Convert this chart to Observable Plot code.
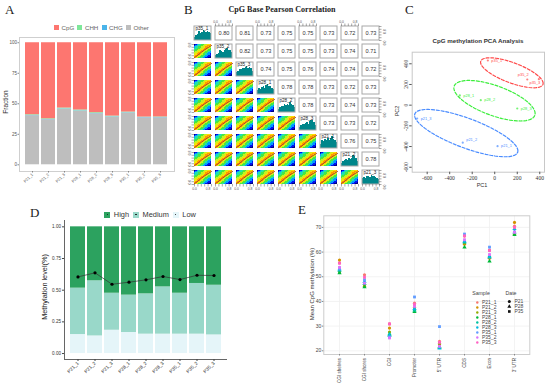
<!DOCTYPE html>
<html><head><meta charset="utf-8">
<script src="https://cdn.jsdelivr.net/npm/d3@7"></script>
<script src="https://cdn.jsdelivr.net/npm/@observablehq/plot@0.6"></script>
<style>
html,body{margin:0;padding:0;background:#fff}
#page{position:relative;width:550px;height:390px;overflow:hidden;background:#fff;font-family:"Liberation Sans",Arial,sans-serif}
#page>svg,#page>div{position:absolute}
.lab{font-family:"Liberation Serif",serif;font-size:13px;color:#222;line-height:1}
.ttl{line-height:1;white-space:nowrap;transform:translateX(-50%)}
.leg{display:flex;align-items:center;line-height:1;white-space:nowrap}
.leg i{display:inline-flex;align-items:center;justify-content:center;flex:none}
.leg b{display:block;border-radius:50%;background:#111}
</style></head><body><div id="page"></div>
<script>
const sampleNames = ["P21_1","P21_2","P21_3","P28_1","P28_2","P28_3","P35_1","P35_2","P35_3"];

// Panel A
const fractionOther = [40.2,36.9,45.6,44.0,41.8,39.1,42.4,38.5,38.5];
const fractionCHG   = [0.3,0.3,0.3,0.3,0.3,0.3,0.3,0.3,0.3];
const fractionCHH   = [0.5,0.5,0.6,0.6,0.6,0.5,0.5,0.3,0.4];
const contextNames  = ["CpG","CHH","CHG","Other"];
const contextColors = ["#FD7670","#7EE79A","#4AB4EA","#BEBEBE"];

// Panel B
const corrIds = ["p35_1","p35_2","p35_3","p28_1","p28_2","p28_3","p21_1","p21_2","p21_3"];
const corrUpper = [
  [0.80,0.81,0.73,0.75,0.75,0.73,0.72,0.73],
  [0.82,0.73,0.75,0.75,0.73,0.74,0.71],
  [0.74,0.75,0.76,0.74,0.74,0.72],
  [0.78,0.78,0.73,0.72,0.73],
  [0.78,0.73,0.74,0.73],
  [0.73,0.73,0.72],
  [0.76,0.75],
  [0.78]
];
const histHeights = [
  [.25,.38,.42,.62,.50,.55,.70,.66,.60,.66,.55,.50],
  [.22,.30,.36,.55,.48,.42,.60,.66,.72,.55,.60,.42],
  [.28,.38,.50,.52,.60,.55,.66,.72,.60,.66,.55,.38],
  [.30,.42,.36,.50,.55,.46,.66,.74,.60,.55,.42,.36],
  [.25,.38,.46,.42,.55,.50,.60,.52,.70,.60,.50,.36],
  [.22,.34,.42,.40,.50,.55,.46,.66,.72,.70,.58,.38],
  [.30,.55,.50,.66,.60,.74,.58,.72,.84,.66,.60,.42],
  [.25,.38,.42,.50,.42,.55,.50,.60,.78,.70,.55,.38],
  [.42,.50,.46,.60,.55,.50,.66,.58,.60,.50,.46,.36]
];
const densityLevels = [
  [0,1,2,3,3,4,4,5,5,6,6,7],
  [1,2,3,3,4,4,5,5,6,7,7,6],
  [2,3,3,4,4,5,5,6,7,7,6,5],
  [3,3,4,4,5,5,6,7,7,6,5,4],
  [3,4,4,5,5,6,7,7,6,5,4,4],
  [4,4,5,5,6,7,7,6,5,4,4,3],
  [4,5,5,6,7,7,6,5,4,4,3,2],
  [5,5,6,7,7,6,5,4,4,3,2,2],
  [5,6,7,7,6,5,4,4,3,2,2,1],
  [6,7,7,6,5,4,4,3,2,2,1,1],
  [7,7,6,5,4,4,3,2,2,1,1,0],
  [7,6,5,4,4,3,2,2,1,1,0,0]
];
const densityColors = ["#00007F","#0010F0","#009CFF","#20E0B0","#48E840","#C8F020","#FFE000","#FF9A00"];
const trendX = [0,.2,.4,.6,.8,1];
const trendY = [.06,.24,.44,.62,.78,.93];
const corrTicks = [0,.2,.4,.6,.8,1];

// Panel C
const pcaNames = ["p35_1","p35_2","p35_3","p28_1","p28_2","p28_3","p21_3","p21_2","p21_1"];
const pcaX = [-61,289,392,-310,-124,200,-689,-284,25];
const pcaY = [432,248,251,94,48,-32,-129,-363,-396];
const pcaGroup = ["p35","p35","p35","p28","p28","p28","p21","p21","p21"];
const groupNames = ["p35","p28","p21"];
const groupColors = ["#FF4A4A","#3CEE3C","#4A8CFF"];
// ellipse: centre x, centre y, x extent, y extent, correlation
const ellipseRed   = [152,313,278,145,-.70];
const ellipseGreen = [-2,43,361,196,-.63];
const ellipseBlue  = [-253,-270,459,229,-.75];

// Panel D
const highLower = [.516,.574,.476,.461,.471,.526,.476,.553,.539];
const lowUpper  = [.150,.139,.184,.166,.153,.153,.153,.153,.147];
const methLevel = [.605,.637,.547,.563,.582,.608,.584,.618,.616];
const levelNames = ["High","Medium","Low"];
const levelColors = ["#2CA25F","#99D8C9","#E5F5F9"];

// Panel E
const regionNames = ["CGI shelves","CGI shores","CGI","Promoter","5' UTR","CDS","Exon","3' UTR"];
const meanShelves  = [55.6,56.8,52.0,51.5,52.5,53.0,53.2,53.8,55.5];
const meanShores   = [50.8,46.8,46.2,45.8,47.2,48.0,48.8,47.4,49.8];
const meanCGI      = [30.9,29.2,27.6,26.4,26.8,26.2,25.6,25.2,30.9];
const meanPromoter = [39.3,37.5,36.6,35.8,36.4,37.0,41.8,38.0,38.9];
const mean5UTR     = [23.8,22.5,23.0,21.2,21.6,21.0,29.8,21.8,23.4];
const meanCDS      = [66.5,63.2,63.8,62.0,64.0,64.4,67.3,65.0,66.6];
const meanExon     = [60.8,57.5,58.0,56.3,58.3,57.9,62.0,59.0,60.6];
const mean3UTR     = [70.5,72.0,67.2,67.0,68.0,69.4,68.2,68.0,70.0];
const sampleColors = ["#F8766D","#D39200","#93AA00","#00BA38","#00C19F","#00B9E3","#619CFF","#DB72FB","#FF61C3"];
const dateNames = ["P21","P28","P35"];
const dateSymbols = ["circle","triangle","square"];

const page = document.getElementById("page");
const SANS = '"Liberation Sans",Arial,sans-serif';
const SERIF = '"Liberation Serif",serif';
function place(node,left,top){node.style.left=left+"px";node.style.top=top+"px";page.appendChild(node);return node;}
function html(cls,text,left,top,css){const d=document.createElement("div");d.className=cls;d.textContent=text;Object.assign(d.style,css||{});return place(d,left,top);}
function legend(left,top,items,colors,o){
  const d=document.createElement("div");d.className="leg";
  d.style.fontSize=o.font+"px";d.style.color=o.color;
  items.forEach((t,i)=>{
    const s=document.createElement("i");s.style.width=s.style.height=o.size+"px";s.style.background=colors[i];
    s.style.marginRight=o.pad+"px";
    if(o.dot){const b=document.createElement("b");b.style.width=b.style.height=o.dot+"px";s.appendChild(b);}
    const l=document.createElement("span");l.textContent=t;l.style.marginRight=o.gap+"px";
    d.append(s,l);
  });
  return place(d,left,top);
}

// letters
[["A",5,3],["B",184,3],["C",405,3],["D",30,206],["E",298,203]].forEach(([t,x,y])=>html("lab",t,x,y));

/* ---------- A ---------- */
const fractionRows=[];
sampleNames.forEach((s,i)=>{
  const cpg=100-fractionOther[i]-fractionCHG[i]-fractionCHH[i];
  fractionRows.push({s,k:"Other",v:fractionOther[i]},{s,k:"CHG",v:fractionCHG[i]},{s,k:"CHH",v:fractionCHH[i]},{s,k:"CpG",v:cpg});
});
place(Plot.plot({
  width:190,height:190,marginLeft:19,marginRight:16,marginTop:37,marginBottom:19,
  style:{fontFamily:SANS,background:"transparent",color:"#555"},
  x:{domain:sampleNames,paddingInner:.1,paddingOuter:.2,label:null},
  y:{domain:[-5.5,104.3],label:null},
  color:{domain:contextNames,range:contextColors},
  marks:[
    Plot.barY(fractionRows,{x:"s",y:"v",fill:"k"}),
    Plot.frame({stroke:"#cfcfcf",strokeWidth:1}),
    Plot.axisX({fontSize:4,tickRotate:-45,tickSize:1.5,tickPadding:1,label:null,stroke:"#888"}),
    Plot.axisY({fontSize:4.5,ticks:[0,25,50,75,100],tickSize:1.5,tickPadding:1,label:null,stroke:"#888"})
  ]
}),0,0);
html("ttl","Fraction",6,102,{fontSize:"6.5px",color:"#333",transform:"translate(-50%,-50%) rotate(-90deg)"});
legend(54,24.5,contextNames,contextColors,{font:6.2,color:"#666",size:5,pad:2.5,gap:3.2});

/* ---------- B ---------- */
const facetOpts=d=>({fx:"col",fy:"row",...d});
const upperCells=[],diagCells=[],lowerKeys=[];
corrIds.forEach((rowId,r)=>corrIds.forEach((colId,c)=>{
  const base={row:rowId,col:colId};
  if(c>r) upperCells.push({...base,v:corrUpper[r][c-r-1].toFixed(2)});
  else if(c===r) diagCells.push({...base,name:rowId});
  else lowerKeys.push(base);
}));
const densityCells=[],trendPts=[];
lowerKeys.forEach(k=>{
  densityLevels.forEach((line,ri)=>line.forEach((level,ci)=>{
    densityCells.push({...k,x1:ci/12,x2:(ci+1)/12,y1:1-(ri+1)/12,y2:1-ri/12,level});
  }));
  trendX.forEach((x,i)=>trendPts.push({...k,key:k.row+k.col,x,y:trendY[i]}));
});
const histBars=[];
corrIds.forEach((id,i)=>histHeights[i].forEach((h,b)=>histBars.push({row:id,col:id,x1:b/12,x2:(b+1)/12,h})));
const tickRows=(pairs)=>pairs.flatMap(([row,col])=>corrTicks.map(t=>({row,col,t})));
const labelRows=(pairs)=>pairs.flatMap(([row,col])=>[[0,"0.0"],[.8,"0.8"]].map(([t,s])=>({row,col,t,s})));
const topPairs=corrIds.filter((_,i)=>i%2===1).map(c=>[corrIds[0],c]);
const bottomPairs=corrIds.map(c=>[corrIds[8],c]);
const leftPairs=corrIds.slice(1).map(r=>[r,corrIds[0]]);
const rightPairs=corrIds.filter((_,i)=>i%2===0).map(r=>[r,corrIds[8]]);
const tickColor="#555",tickText={fontSize:3.4,fill:"#555"};
place(Plot.plot({
  width:204,height:178,marginLeft:10.3,marginRight:8.2,marginTop:9.3,marginBottom:4,
  style:{fontFamily:SANS,background:"transparent",overflow:"visible"},
  fx:{domain:corrIds,paddingInner:.167,paddingOuter:0,axis:null,label:null},
  fy:{domain:corrIds,paddingInner:.2,paddingOuter:0,axis:null,label:null},
  x:{domain:[0,1],axis:null},y:{domain:[0,1],axis:null},
  color:{type:"ordinal",domain:d3.range(8),range:densityColors},
  marks:[
    Plot.rect(densityCells,facetOpts({x1:"x1",x2:"x2",y1:"y1",y2:"y2",fill:"level",shapeRendering:"crispEdges"})),
    Plot.line(trendPts,facetOpts({x:"x",y:"y",z:"key",stroke:"#A8402A",strokeWidth:1})),
    Plot.rect(histBars,facetOpts({x1:"x1",x2:"x2",y1:0,y2:"h",fill:"#00868B",shapeRendering:"crispEdges"})),
    Plot.rect([...upperCells,...diagCells],facetOpts({x1:0,x2:1,y1:0,y2:1,stroke:"#a8a8a8",strokeWidth:1,fill:"none"})),
    Plot.text(upperCells,facetOpts({text:"v",frameAnchor:"middle",fontSize:5.6,fill:"#333"})),
    Plot.text(diagCells,facetOpts({text:"name",frameAnchor:"top-left",dx:1,dy:.5,fontSize:4.6,fill:"#222"})),
    Plot.ruleX(tickRows(topPairs),facetOpts({x:"t",y1:1,y2:1,insetTop:-2.5,stroke:tickColor,strokeWidth:.5})),
    Plot.ruleX(tickRows(bottomPairs),facetOpts({x:"t",y1:0,y2:0,insetBottom:-2.5,stroke:tickColor,strokeWidth:.5})),
    Plot.ruleY(tickRows(leftPairs),facetOpts({y:"t",x1:0,x2:0,insetLeft:-2.5,stroke:tickColor,strokeWidth:.5})),
    Plot.ruleY(tickRows(rightPairs),facetOpts({y:"t",x1:1,x2:1,insetRight:-2.5,stroke:tickColor,strokeWidth:.5})),
    Plot.text(labelRows(topPairs),facetOpts({x:"t",text:"s",frameAnchor:"top",dy:-5.5,...tickText})),
    Plot.text(labelRows(bottomPairs),facetOpts({x:"t",text:"s",frameAnchor:"bottom",dy:5.5,...tickText})),
    Plot.text(labelRows(leftPairs),facetOpts({y:"t",text:"s",frameAnchor:"left",dx:-5,rotate:-90,...tickText})),
    Plot.text(labelRows(rightPairs),facetOpts({y:"t",text:"s",frameAnchor:"right",dx:5,rotate:-90,...tickText}))
  ]
}),184,14);
html("ttl","CpG Base Pearson Correlation",282,5.5,{fontFamily:SERIF,fontWeight:"bold",fontSize:"8.1px",color:"#222"});

/* ---------- C ---------- */
const pcaRows=pcaNames.map((name,i)=>({name,x:pcaX[i],y:pcaY[i],g:pcaGroup[i]}));
const steps=d3.range(0,6.35,.1);
const ellipsePts=[[ellipseRed,"p35"],[ellipseGreen,"p28"],[ellipseBlue,"p21"]].flatMap(([[cx,cy,rx,ry,rho],g])=>{
  const phi=Math.acos(rho);
  return steps.map(t=>({g,x:cx+rx*Math.cos(t),y:cy+ry*Math.cos(t-phi)}));
});
const isShift=n=>n==="p35_2"||n==="p35_3"||n==="p21_2";
place(Plot.plot({
  width:180,height:170,marginLeft:41.7,marginRight:6,marginTop:31.7,marginBottom:18.3,
  style:{fontFamily:SERIF,background:"transparent",color:"#333"},
  x:{domain:[-733,442],label:null},
  y:{domain:[-648,512],label:null},
  color:{domain:groupNames,range:groupColors},
  marks:[
    Plot.frame({stroke:"#c8c8c8",strokeWidth:1}),
    Plot.axisX({ticks:[-600,-400,-200,0,200,400],tickFormat:d=>d<0?"-"+(-d):""+d,fontSize:5.6,tickSize:2.5,tickPadding:1.5,label:null,stroke:"#555"}),
    Plot.axisY({ticks:[-600,-400,-200,0,200,400],tickFormat:d=>d<0?"-"+(-d):""+d,fontSize:5.6,tickSize:2.5,tickPadding:1.5,tickRotate:-90,label:null,stroke:"#555"}),
    Plot.line(ellipsePts,{x:"x",y:"y",z:"g",stroke:"g",strokeWidth:1.2,strokeDasharray:"3,1.8"}),
    Plot.dot(pcaRows,{x:"x",y:"y",fill:"g",r:1.1,fillOpacity:.7}),
    Plot.text(pcaRows.filter(d=>!isShift(d.name)),{x:"x",y:"y",text:"name",fill:"g",fontSize:3.9,dx:3.5,textAnchor:"start",fontFamily:SANS}),
    Plot.text(pcaRows.filter(d=>d.name==="p21_2"),{x:"x",y:"y",text:"name",fill:"g",fontSize:3.9,dx:3.5,dy:-2.5,textAnchor:"start",fontFamily:SANS}),
    Plot.text(pcaRows.filter(d=>d.name==="p35_2"),{x:"x",y:"y",text:"name",fill:"g",fontSize:3.9,dx:-4,dy:-4.5,fontFamily:SANS}),
    Plot.text(pcaRows.filter(d=>d.name==="p35_3"),{x:"x",y:"y",text:"name",fill:"g",fontSize:3.9,dx:-4,dy:3.8,fontFamily:SANS})
  ]
}),370,20);
html("ttl","CpG methylation PCA Analysis",478,38,{fontWeight:"bold",fontSize:"6.2px",color:"#333"});
html("ttl","PC1",482,182.5,{fontSize:"5.5px",color:"#333"});
html("ttl","PC2",398,111,{fontSize:"5.5px",color:"#333",transform:"translate(-50%,-50%) rotate(-90deg)"});

/* ---------- D ---------- */
const levelRows=[];
sampleNames.forEach((s,i)=>{
  levelRows.push({s,k:"Low",v:lowUpper[i]},{s,k:"Medium",v:highLower[i]-lowUpper[i]},{s,k:"High",v:1-highLower[i]});
});
const methRows=sampleNames.map((s,i)=>({s,v:methLevel[i]}));
place(Plot.plot({
  width:280,height:195,marginLeft:64,marginRight:54,marginTop:25,marginBottom:31,
  style:{fontFamily:SANS,background:"transparent",color:"#333"},
  x:{domain:sampleNames,paddingInner:.13,paddingOuter:.19,label:null},
  y:{domain:[-.047,1.05],label:null},
  color:{domain:levelNames,range:levelColors},
  marks:[
    Plot.barY(levelRows,{x:"s",y:"v",fill:"k"}),
    Plot.line(methRows,{x:"s",y:"v",stroke:"#333",strokeWidth:.7}),
    Plot.dot(methRows,{x:"s",y:"v",fill:"#000",r:1.6}),
    Plot.frame({anchor:"left",stroke:"#666",strokeWidth:1}),
    Plot.frame({anchor:"bottom",stroke:"#666",strokeWidth:1}),
    Plot.axisX({fontSize:4.8,tickRotate:-45,tickSize:2,tickPadding:1,label:null,stroke:"#444"}),
    Plot.axisY({ticks:[0,.25,.5,.75,1],tickFormat:d3.format(".2f"),fontSize:4.6,tickSize:2,tickPadding:1.5,label:null,stroke:"#444"})
  ]
}),0,195);
html("ttl","Methylation level(%)",45,287,{fontSize:"7.3px",color:"#222",transform:"translate(-50%,-50%) rotate(-90deg)"});
legend(104.3,211,levelNames,levelColors,{font:7.4,color:"#333",size:6,pad:3.5,gap:4,dot:1.4});

/* ---------- E ---------- */
const regionValues=[meanShelves,meanShores,meanCGI,meanPromoter,mean5UTR,meanCDS,meanExon,mean3UTR];
const meanRows=regionNames.flatMap((region,r)=>sampleNames.map((s,i)=>({region,s,date:s.slice(0,3),v:regionValues[r][i]})));
place(Plot.plot({
  width:260,height:190,marginLeft:33.3,marginRight:20.7,marginTop:15.3,marginBottom:36,
  style:{fontFamily:SANS,background:"transparent",color:"#444"},
  x:{type:"point",domain:regionNames,padding:.6,label:null},
  y:{domain:[18.5,74.7],label:null},
  color:{domain:sampleNames,range:sampleColors},
  symbol:{domain:dateNames,range:dateSymbols},
  marks:[
    Plot.ruleX(regionNames,{x:d=>d,stroke:"#f0f0f0",strokeWidth:.8}),
    Plot.ruleY([20,30,40,50,60,70],{stroke:"#f0f0f0",strokeWidth:.8}),
    Plot.dot(meanRows,{x:"region",y:"v",fill:"s",symbol:"date",r:1.6}),
    Plot.frame({stroke:"#cdcdcd",strokeWidth:1}),
    Plot.axisX({fontSize:4.6,tickRotate:-90,tickSize:1.5,tickPadding:2,label:null,stroke:"#888"}),
    Plot.axisY({ticks:[20,30,40,50,60,70],fontSize:5,tickSize:1.5,tickPadding:1,label:null,stroke:"#888"})
  ]
}),290,200);
html("ttl","Mean CpG methylation (%)",311.5,284,{fontSize:"6px",color:"#333",transform:"translate(-50%,-50%) rotate(-90deg)"});

const sampleLegendRows=sampleNames.map(s=>({s}));
place(Plot.plot({
  width:34,height:47.7,marginLeft:5,marginRight:0,marginTop:3,marginBottom:3,
  style:{fontFamily:SANS,background:"transparent"},
  x:{axis:null,domain:[0,1]},
  y:{type:"point",domain:sampleNames,padding:0,axis:null},
  color:{domain:sampleNames,range:sampleColors},
  marks:[
    Plot.dot(sampleLegendRows,{y:"s",fill:"s",r:1.2,frameAnchor:"left",dx:.8}),
    Plot.text(sampleLegendRows,{y:"s",text:"s",frameAnchor:"left",dx:5.5,fontSize:5,fill:"#444"})
  ]
}),470.5,298);
place(Plot.plot({
  width:34,height:16.7,marginLeft:5,marginRight:0,marginTop:3,marginBottom:3,
  style:{fontFamily:SANS,background:"transparent"},
  x:{axis:null,domain:[0,1]},
  y:{type:"point",domain:dateNames,padding:0,axis:null},
  symbol:{domain:dateNames,range:dateSymbols},
  marks:[
    Plot.dot(dateNames,{y:d=>d,symbol:d=>d,fill:"#111",r:1.5,frameAnchor:"left",dx:.8}),
    Plot.text(dateNames,{y:d=>d,text:d=>d,frameAnchor:"left",dx:6,fontSize:5,fill:"#444"})
  ]
}),503,298);
html("ttl","Sample",481,291,{fontSize:"5.2px",color:"#444"});
html("ttl","Date",511,291,{fontSize:"5.2px",color:"#444"});
</script></body></html>
